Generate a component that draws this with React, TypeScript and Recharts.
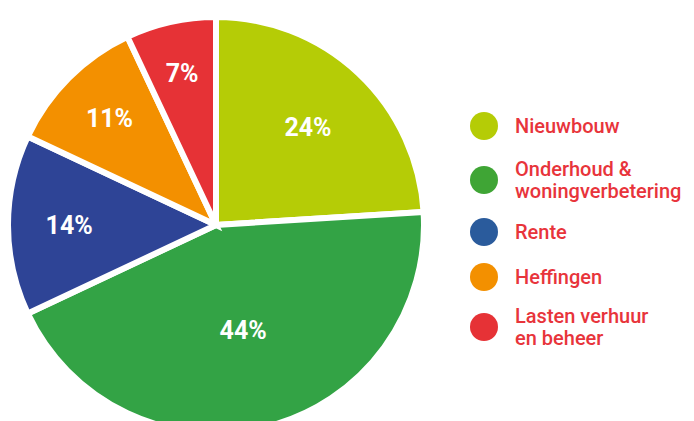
import { PieChart, Pie, Cell } from 'recharts';

const categories = ['Nieuwbouw', 'Onderhoud & woningverbetering', 'Rente', 'Heffingen', 'Lasten verhuur en beheer'];
const legendLines = [['Nieuwbouw'], ['Onderhoud &', 'woningverbetering'], ['Rente'], ['Heffingen'], ['Lasten verhuur', 'en beheer']];
const shares = [24, 44, 14, 11, 7];
const sliceColors = ['#b5cc06', '#33a345', '#2e4496', '#f39000', '#e63236'];
const legendColors = ['#b5cc06', '#3fa535', '#2a5b9c', '#f39000', '#e63236'];
const legendGaps = [18, 16, 17, 14, 0];

const data = categories.map((name, i) => ({ name, value: shares[i] }));

const RAD = Math.PI / 180;

interface LabelProps {
  cx: number;
  cy: number;
  midAngle: number;
  outerRadius: number;
  value: number;
}

function SliceLabel({ cx, cy, midAngle, outerRadius, value }: LabelProps) {
  // bigger slices keep their label a bit closer to the centre
  const r = outerRadius * (0.79 - value * 0.006);
  const x = cx + r * Math.cos(-midAngle * RAD);
  const y = cy + r * Math.sin(-midAngle * RAD);
  return (
    <text
      x={x}
      y={y}
      fill="#fff"
      textAnchor="middle"
      dominantBaseline="central"
      fontFamily="Roboto, sans-serif"
      fontWeight={700}
      fontSize={25}
    >
      {value}%
    </text>
  );
}

function LegendBlock() {
  return (
    <div style={{ position: 'absolute', left: 470, top: 112, fontFamily: 'Roboto, sans-serif' }}>
      {legendLines.map((lines, i) => (
        <div key={i} style={{ display: 'flex', alignItems: 'center', marginBottom: legendGaps[i] }}>
          <span
            style={{
              width: 28,
              height: 28,
              borderRadius: '50%',
              background: legendColors[i],
              display: 'inline-block',
              flexShrink: 0,
            }}
          />
          <div style={{ marginLeft: 17, color: '#e8343b', fontSize: 20, lineHeight: '22px', fontWeight: 500 }}>
            {lines.map((l) => (
              <div key={l}>{l}</div>
            ))}
          </div>
        </div>
      ))}
    </div>
  );
}

export default function App() {
  return (
    <div style={{ position: 'absolute', left: 0, top: 0, width: 694, height: 421, overflow: 'hidden', background: '#fff' }}>
      <PieChart width={694} height={421}>
        <Pie
          data={data}
          dataKey="value"
          nameKey="name"
          cx={211}
          cy={220}
          outerRadius={208}
          startAngle={90}
          endAngle={-270}
          stroke="#fff"
          strokeWidth={6}
          label={SliceLabel}
          labelLine={false}
          isAnimationActive={false}
        >
          {data.map((d, i) => (
            <Cell key={d.name} fill={sliceColors[i]} />
          ))}
        </Pie>
      </PieChart>
      <LegendBlock />
    </div>
  );
}
